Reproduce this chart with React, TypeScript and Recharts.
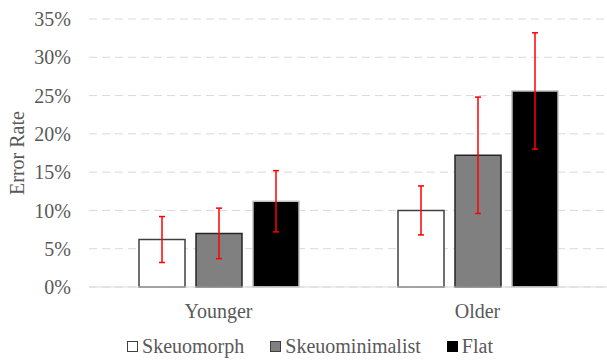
import { Bar, BarChart, CartesianGrid, ErrorBar, Legend, XAxis, YAxis } from "recharts";

const groups = ["Younger", "Older"];
const skeuomorph = [6.2, 10.0];
const skeuomorphErr = [3.0, 3.2];
const skeuominimalist = [7.0, 17.2];
const skeuominimalistErr = [3.3, 7.6];
const flat = [11.2, 25.6];
const flatErr = [4.0, 7.6];
const yTicks = [0, 5, 10, 15, 20, 25, 30, 35];

const series = [
  { key: "skeuomorph", name: "Skeuomorph", fill: "#ffffff", stroke: "#404040" },
  { key: "skeuominimalist", name: "Skeuominimalist", fill: "#808080", stroke: "#262626" },
  { key: "flat", name: "Flat", fill: "#000000", stroke: "#bfbfbf" }
];

const data = groups.map((g, i) => ({
  group: g,
  skeuomorph: skeuomorph[i],
  skeuomorphErr: skeuomorphErr[i],
  skeuominimalist: skeuominimalist[i],
  skeuominimalistErr: skeuominimalistErr[i],
  flat: flat[i],
  flatErr: flatErr[i]
}));

const font = "'Liberation Serif', 'Times New Roman', serif";

function LegendBox() {
  return (
    <div style={{ display: "flex", justifyContent: "center", alignItems: "center", height: 30, fontFamily: font, fontSize: 20, color: "#595959", paddingLeft: 13 }}>
      {series.map((s, i) => (
        <div key={s.key} style={{ display: "flex", alignItems: "center", marginRight: i < series.length - 1 ? 26 : 0 }}>
          <span style={{ display: "inline-block", width: 9, height: 9, background: s.fill, border: `1px solid ${s.key === "flat" ? "#000" : "#404040"}`, marginRight: 4 }} />
          <span style={{ fontFamily: font }}>{s.name}</span>
        </div>
      ))}
    </div>
  );
}

export default function App() {
  return (
    <div style={{ position: "absolute", left: 0, top: 0, fontFamily: font }}>
      <BarChart width={607} height={363} data={data} margin={{ top: 19, right: 0, left: 0, bottom: 2 }} barSize={46} barGap={11}>
        <CartesianGrid vertical={false} stroke="#d9d9d9" strokeDasharray="8 5" />
        <XAxis dataKey="group" height={44} tickLine={false} axisLine={{ stroke: "#d9d9d9" }} tickMargin={11} tick={{ fill: "#595959", fontSize: 20, fontFamily: font }} />
        <YAxis
          width={89}
          domain={[0, 35]}
          ticks={yTicks}
          tickFormatter={(v: number) => `${v}%`}
          axisLine={false}
          tickLine={false}
          tickSize={0}
          tickMargin={18}
          tick={{ fill: "#595959", fontSize: 20, fontFamily: font }}
          label={{ value: "Error Rate", angle: -90, position: "insideLeft", offset: 17, style: { textAnchor: "middle", fill: "#595959", fontSize: 20, fontFamily: font } }}
        />
        <Legend verticalAlign="bottom" content={() => <LegendBox />} />
        {series.map((s) => (
          <Bar key={s.key} dataKey={s.key} name={s.name} fill={s.fill} stroke={s.stroke} strokeWidth={1.5} isAnimationActive={false}>
            <ErrorBar dataKey={`${s.key}Err`} width={3} stroke="#ff0000" strokeWidth={1.5} isAnimationActive={false} />
          </Bar>
        ))}
      </BarChart>
    </div>
  );
}
